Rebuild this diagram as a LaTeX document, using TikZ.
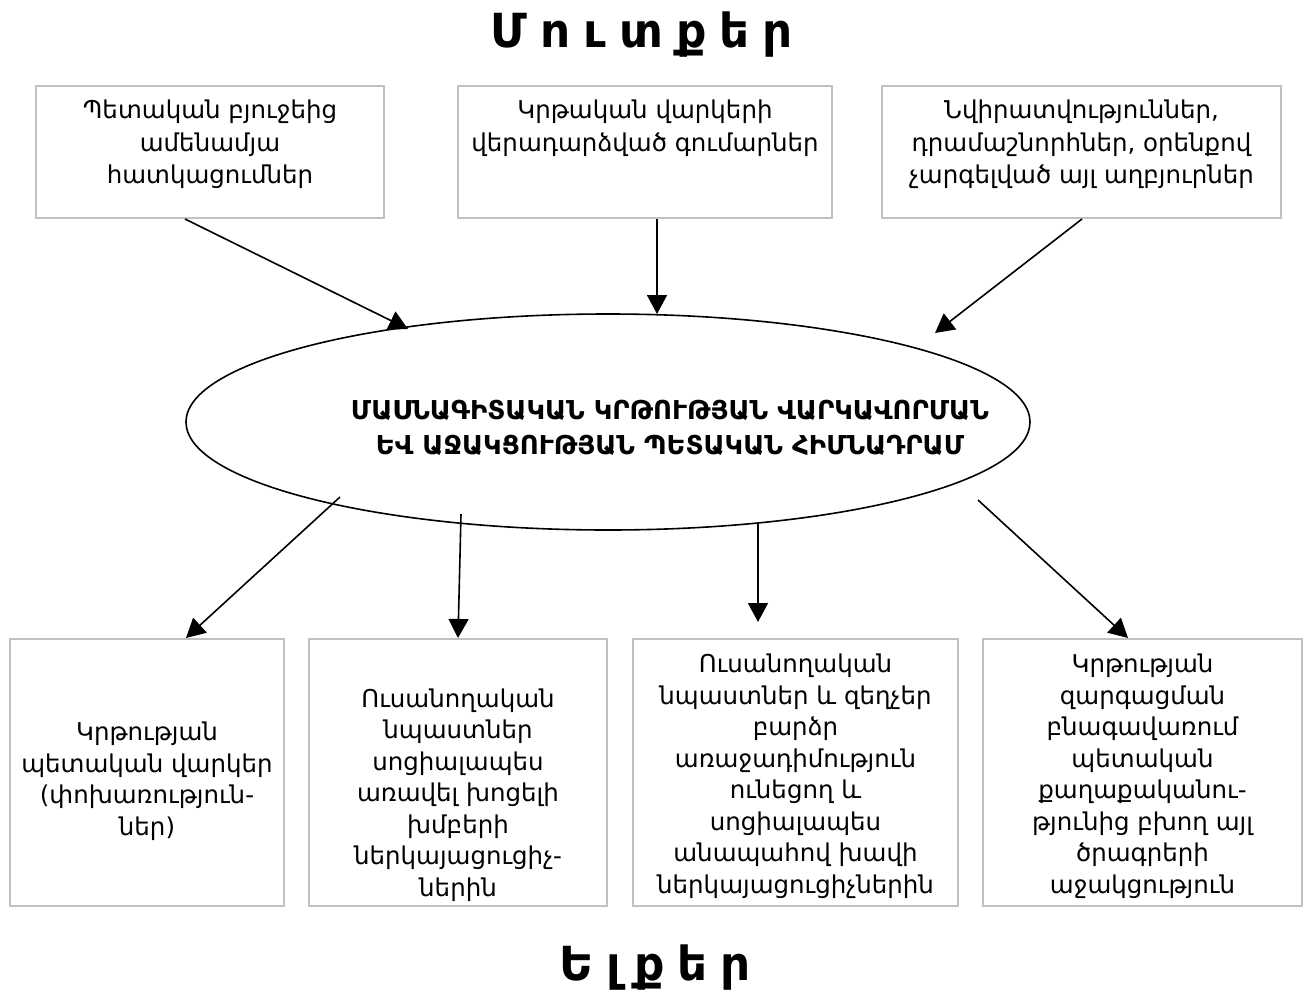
\documentclass[tikz,border=0pt]{standalone}
\usepackage{fontspec}
\setmainfont{DejaVu Sans}
\usetikzlibrary{arrows.meta,shapes.geometric}
\definecolor{boxgray}{HTML}{C0C0C0}
\tikzset{
  boxnode/.style={draw=boxgray,line width=1.8pt,rectangle,inner sep=0pt},
  txt/.style={align=center,font=\fontsize{24.5}{31.5}\selectfont,inner sep=0pt},
  toptxt/.style={align=center,font=\fontsize{24.5}{32.5}\selectfont,inner sep=0pt,anchor=north},
  arr/.style={line width=1.6pt,-{Triangle[width=20pt,length=19pt]}},
  ttl/.style={font=\fontsize{47}{50}\bfseries\selectfont,inner sep=0pt}
}
\newcommand{\gp}{\hspace{13pt}}
\begin{document}
\begin{tikzpicture}[x=1pt,y=-1pt]
\useasboundingbox (0,0) rectangle (1311,1001);
% titles
\node[ttl] (t1) at (642,35) {Մ\gp ո\gp ւ\gp տ\gp ք\gp ե\gp ր};
\node[ttl] (t2) at (655,968) {Ե\gp լ\gp ք\gp ե\gp ր};
% top boxes
\node[boxnode,minimum width=348pt,minimum height=132pt] (b1) at (210,152) {};
\node[boxnode,minimum width=374pt,minimum height=132pt] (b2) at (645,152) {};
\node[boxnode,minimum width=399pt,minimum height=132pt] (b3) at (1081.5,152) {};
\node[toptxt] (x1) at (210,100) {Պետական բյուջեից\\ամենամյա\\հատկացումներ};
\node[toptxt] (x2) at (645,100) {Կրթական վարկերի\\վերադարձված գումարներ};
\node[toptxt] (x3) at (1081.5,100) {Նվիրատվություններ,\\դրամաշնորհներ, օրենքով\\չարգելված այլ աղբյուրներ};
% ellipse
\node[draw,ellipse,line width=1.6pt,minimum width=844pt,minimum height=216pt,inner sep=0pt] (ell) at (608,422) {};
\node[align=center,inner sep=0pt,font=\fontsize{26}{35}\bfseries\selectfont] (et) at (670,428)
  {ՄԱՍՆԱԳԻՏԱԿԱՆ ԿՐԹՈՒԹՅԱՆ ՎԱՐԿԱՎՈՐՄԱՆ\\ԵՎ ԱՋԱԿՑՈՒԹՅԱՆ ՊԵՏԱԿԱՆ ՀԻՄՆԱԴՐԱՄ};
% bottom boxes
\node[boxnode,minimum width=274pt,minimum height=267pt] (c1) at (147,772.5) {};
\node[boxnode,minimum width=298pt,minimum height=267pt] (c2) at (458,772.5) {};
\node[boxnode,minimum width=325pt,minimum height=267pt] (c3) at (795.5,772.5) {};
\node[boxnode,minimum width=319pt,minimum height=267pt] (c4) at (1142.5,772.5) {};
\node[txt] (y1) at (147,781) {Կրթության\\պետական վարկեր\\(փոխառություն-\\ներ)};
\node[txt] (y2) at (458,795) {Ուսանողական\\նպաստներ\\սոցիալապես\\առավել խոցելի\\խմբերի\\ներկայացուցիչ-\\ներին};
\node[txt] (y3) at (795.5,776) {Ուսանողական\\նպաստներ և զեղչեր\\բարձր\\առաջադիմություն\\ունեցող և\\սոցիալապես\\անապահով խավի\\ներկայացուցիչներին};
\node[txt] (y4) at (1142.5,776) {Կրթության\\զարգացման\\բնագավառում\\պետական\\քաղաքականու-\\թյունից բխող այլ\\ծրագրերի\\աջակցություն};
% connector endpoints
\coordinate (s1) at (185,219);
\coordinate (e1) at (408,329);
\coordinate (s2) at (657,219);
\coordinate (e2) at (657,314);
\coordinate (s3) at (1082,219);
\coordinate (e3) at (935,333);
\coordinate (s4) at (340,497);
\coordinate (e4) at (186,638);
\coordinate (s5) at (461,514);
\coordinate (e5) at (458,638);
\coordinate (s6) at (758,524);
\coordinate (e6) at (758,622);
\coordinate (s7) at (978,500);
\coordinate (e7) at (1128,638);
\draw[arr] (s1) -- (e1);
\draw[arr] (s2) -- (e2);
\draw[arr] (s3) -- (e3);
\draw[arr] (s4) -- (e4);
\draw[arr] (s5) -- (e5);
\draw[arr] (s6) -- (e6);
\draw[arr] (s7) -- (e7);
\end{tikzpicture}
\end{document}
